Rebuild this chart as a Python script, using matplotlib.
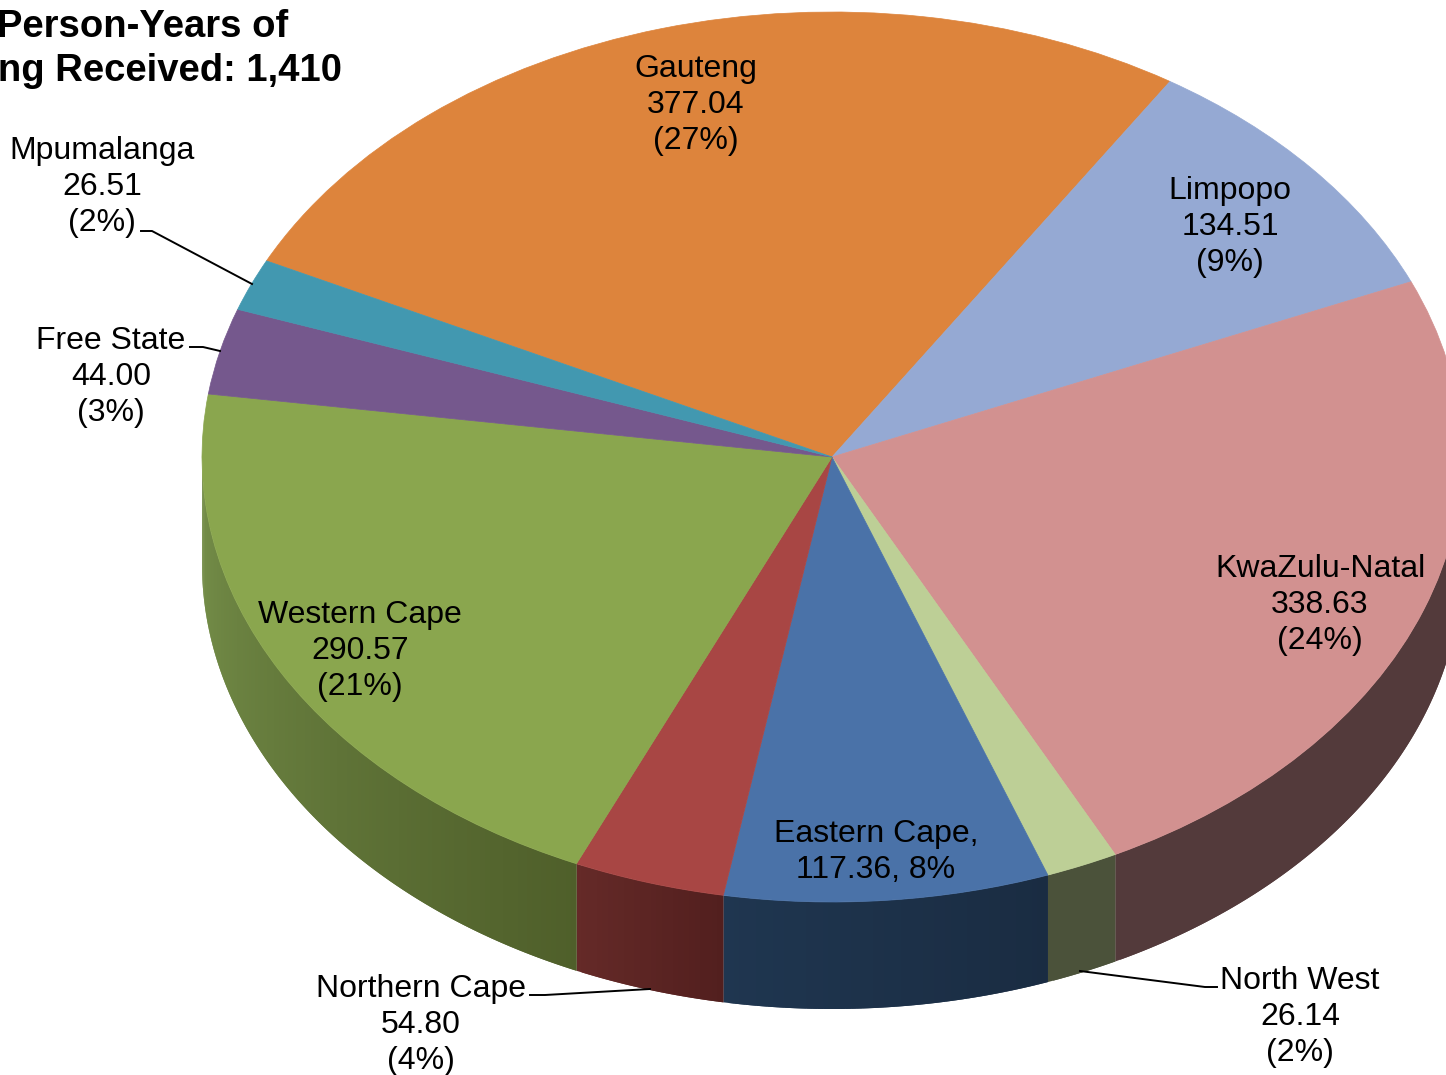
import numpy as np
import matplotlib
matplotlib.use('Agg')
import matplotlib.pyplot as plt
from matplotlib.colors import to_rgb
from matplotlib.transforms import Affine2D

plt.rcParams['font.family'] = ['Liberation Sans', 'DejaVu Sans']

W, H = 1446, 1075

# data, clockwise from Gauteng
provinces = ['Gauteng', 'Limpopo', 'KwaZulu-Natal', 'North West', 'Eastern Cape',
             'Northern Cape', 'Western Cape', 'Free State', 'Mpumalanga']
person_years = [377.04, 134.51, 338.63, 26.14, 117.36, 54.80, 290.57, 44.00, 26.51]
percents = [27, 9, 24, 2, 8, 4, 21, 3, 2]
title_lines = ['Total Person-Years of', 'Training Received: 1,410']

colors = ['#dd843c', '#95a9d3', '#d29190', '#bdcf96', '#4a72a8',
          '#a84644', '#8aa64e', '#75588d', '#4298b0']
# side wall colour at the left and right end of each slice
side_left = ['#000000', '#000000', '#533a3b', '#4b523a', '#1f3650',
             '#652a28', '#76904a', '#000000', '#000000']
side_right = ['#000000', '#000000', '#533a3b', '#4b523a', '#1a2c42',
              '#521f1e', '#4f5f2a', '#000000', '#000000']

# label centres in pixels
label_pos = [(696, 105), (1230, 227), (1320, 605), (1300, 1017), (876, 852),
             (421, 1025), (360, 651), (111, 377), (102, 187)]

# leader lines in pixels
leaders = [[(141, 231), (152, 231), (252, 284)],
           [(190, 347), (203, 347), (220, 351)],
           [(530, 995), (545, 995), (650, 989)],
           [(1217, 987), (1205, 987), (1080, 971)]]

cx, cy, rx, ry = 832, 457, 630, 445
depth = 107 / ry
start = 153.85

fig = plt.figure(figsize=(W / 100, H / 100), dpi=100)
ax = fig.add_axes([0, 0, 1, 1])

wedges, _ = ax.pie(person_years, colors=colors, startangle=start, counterclock=False,
                   wedgeprops={'linewidth': 0.5})
for w, c in zip(wedges, colors):
    w.set_edgecolor(c)
    w.set_zorder(3)

ax.set_aspect('auto')
ax.set_xlim(-cx / rx, (W - cx) / rx)
ax.set_ylim((cy - H) / ry, cy / ry)
ax.axis('off')

# side wall, only the part of each slice on the lower half of the ellipse
for w, cl, cr in zip(wedges, side_left, side_right):
    a, b = w.theta1 % 360, w.theta2 % 360
    if b < a:
        b += 360
    lo, hi = max(a, 180), min(b, 360)
    if hi <= lo:
        continue
    th = np.radians(np.linspace(lo, hi, int(hi - lo) * 2 + 2))
    c0, c1 = np.array(to_rgb(cl)), np.array(to_rgb(cr))
    n = len(th) - 1
    for i in range(n):
        t = (i + 0.5) / n
        col = c0 + (c1 - c0) * t
        # each strip runs over the next one so no seams show
        arc = th[[i, min(i + 2, n), min(i + 2, n), i]]
        x = np.cos(arc)
        y = np.sin(arc) - np.array([0, 0, depth, depth])
        ax.fill(x, y, color=col, lw=0, zorder=2)

px = Affine2D().scale(1 / W, -1 / H).translate(0, 1) + fig.transFigure

for name, val, pct, (x, y) in zip(provinces, person_years, percents, label_pos):
    if name == 'Eastern Cape':
        s = f'{name},\n{val:.2f}, {pct}%'
    else:
        s = f'{name}\n{val:.2f}\n({pct}%)'
    ax.text(x, y, s, transform=px, ha='center', va='center', multialignment='center',
            fontsize=23, linespacing=1.28, color='black', zorder=5)

for pts in leaders:
    xs, ys = zip(*pts)
    ax.plot(xs, ys, transform=px, color='black', lw=1.4, zorder=4)

ax.text(288, 27, title_lines[0], transform=px, ha='right', va='center',
        fontsize=27.5, fontweight='bold', zorder=5)
ax.text(342.5, 71, title_lines[1], transform=px, ha='right', va='center',
        fontsize=27.5, fontweight='bold', zorder=5)

fig.savefig('out.png', dpi=100)
